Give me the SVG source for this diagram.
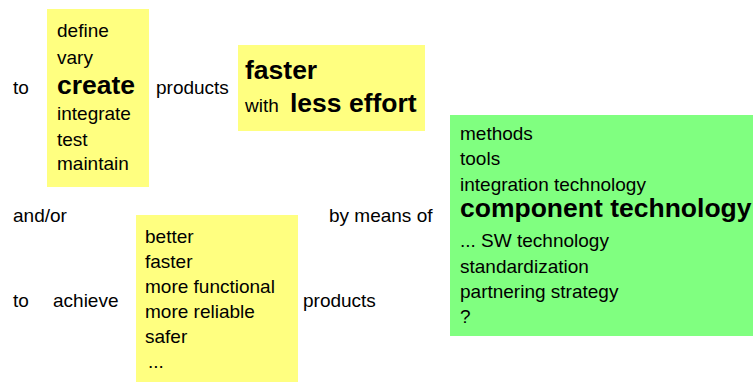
<svg xmlns="http://www.w3.org/2000/svg" width="753" height="383" viewBox="0 0 753 383">
<style>
text{font-family:"Liberation Sans",Arial,sans-serif;font-size:19px;fill:#000}
.b{font-weight:bold;font-size:26.5px}
.y{fill:#FFFF80}
.g{fill:#80FF80}
</style>
<rect width="753" height="383" fill="#fff"/>
<g id="labels">
<text x="13" y="94">to</text>
<text x="156" y="94">products</text>
<text x="13" y="222">and/or</text>
<text x="329" y="222">by means of</text>
<text x="13" y="307">to</text>
<text x="53" y="307">achieve</text>
<text x="303" y="307">products</text>
</g>
<g id="activities">
<rect class="y" x="47" y="9" width="102" height="178"/>
<text x="57" y="37">define</text>
<text x="57" y="64">vary</text>
<text class="b" x="57" y="94">create</text>
<text x="57" y="120">integrate</text>
<text x="57" y="146">test</text>
<text x="57" y="170">maintain</text>
</g>
<g id="faster">
<rect class="y" x="238" y="45" width="187" height="86"/>
<text class="b" x="245" y="79">faster</text>
<text x="245" y="112">with</text>
<text class="b" x="290" y="112">less effort</text>
</g>
<g id="means">
<rect class="g" x="450" y="115" width="303" height="221"/>
<text x="460" y="140">methods</text>
<text x="460" y="165">tools</text>
<text x="460" y="191">integration technology</text>
<text class="b" x="460" y="217">component technology</text>
<text x="460" y="247">... SW technology</text>
<text x="460" y="273">standardization</text>
<text x="460" y="298">partnering strategy</text>
<text x="460" y="323">?</text>
</g>
<g id="qualities">
<rect class="y" x="136" y="215" width="162" height="167"/>
<text x="145" y="243">better</text>
<text x="145" y="268">faster</text>
<text x="145" y="293">more functional</text>
<text x="145" y="318">more reliable</text>
<text x="145" y="343">safer</text>
<text x="148" y="368">...</text>
</g>
</svg>
